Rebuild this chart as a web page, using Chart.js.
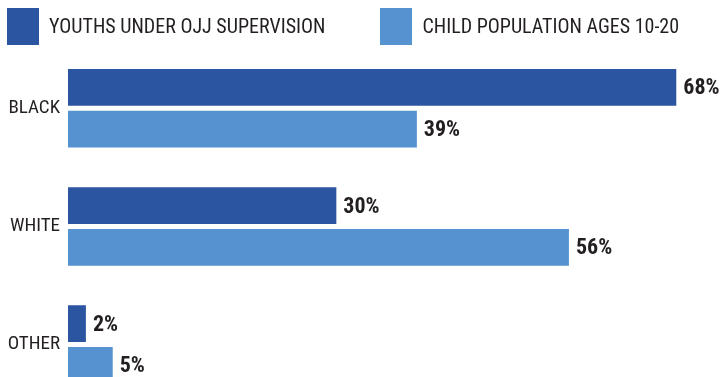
<!DOCTYPE html>
<html>
<head>
<meta charset="utf-8">
<script src="https://cdn.jsdelivr.net/npm/chart.js@4.4.1/dist/chart.umd.min.js"></script>
<style>
    html, body {
        margin: 0;
        background: #fff;
        overflow: hidden;
    }
    #wrap {
        position: relative;
        width: 723px;
        height: 377px;
        overflow: hidden;
    }
    #chart {
        position: absolute;
        left: 0;
        top: 0;
    }
    #legend {
        position: absolute;
        left: 7px;
        top: 8px;
        display: flex;
        font-family: "Roboto Condensed", sans-serif;
        font-size: 20px;
        color: #231f20;
        line-height: 37px;
    }
    .legend-item {
        display: flex;
        margin-right: 55px;
        white-space: nowrap;
    }
    .legend-box {
        width: 32px;
        height: 37px;
        margin-right: 10px;
    }
</style>
</head>
<body>
<div id="wrap">
    <canvas id="chart" width="723" height="410"></canvas>
    <div id="legend"></div>
</div>
<script>
const categories = ['BLACK', 'WHITE', 'OTHER'];
const seriesNames = ['YOUTHS UNDER OJJ SUPERVISION', 'CHILD POPULATION AGES 10-20'];
const ojjValues = [68, 30, 2];
const populationValues = [39, 56, 5];
const seriesColors = ['#2b55a0', '#5592cf'];

// draws the "68%" style labels at the end of each bar
const valueLabels = {
    id: 'valueLabels',
    afterDatasetsDraw(chart) {
        const ctx = chart.ctx;
        ctx.save();
        ctx.font = 'bold 22px "Roboto Condensed", sans-serif';
        ctx.fillStyle = '#231f20';
        ctx.textAlign = 'left';
        ctx.textBaseline = 'alphabetic';
        chart.data.datasets.forEach((ds, i) => {
            chart.getDatasetMeta(i).data.forEach((bar, j) => {
                ctx.fillText(ds.data[j] + '%', bar.x + 7, bar.y + 7);
            });
        });
        ctx.restore();
    }
};

const chart = new Chart(document.getElementById('chart'), {
    type: 'bar',
    data: {
        labels: categories,
        datasets: [
            {
                label: seriesNames[0],
                data: ojjValues,
                backgroundColor: seriesColors[0]
            },
            {
                label: seriesNames[1],
                data: populationValues,
                backgroundColor: seriesColors[1]
            }
        ]
    },
    options: {
        indexAxis: 'y',
        responsive: false,
        animation: false,
        categoryPercentage: 0.707,
        barPercentage: 0.88,
        layout: {
            padding: { top: 49.3, bottom: 6.5, right: 2, left: 0 }
        },
        plugins: {
            legend: { display: false },
            tooltip: { enabled: false }
        },
        scales: {
            x: {
                display: false,
                min: 0,
                max: 73
            },
            y: {
                grid: { display: false, drawTicks: false },
                border: { display: false },
                ticks: {
                    padding: 8,
                    color: '#231f20',
                    font: { family: '"Roboto Condensed", sans-serif', size: 19 }
                },
                afterFit(scale) {
                    scale.width = 68;
                    scale.paddingTop = 0;
                    scale.paddingBottom = 0;
                }
            }
        }
    },
    plugins: [valueLabels]
});

// html legend built from the datasets
const legendEl = document.getElementById('legend');
chart.data.datasets.forEach(ds => {
    const item = document.createElement('div');
    item.classList.add('legend-item');
    item.innerHTML = `
        <div class="legend-box" style="background:${ds.backgroundColor}"></div>
        <span>${ds.label}</span>
    `;
    legendEl.appendChild(item);
});
</script>
</body>
</html>
